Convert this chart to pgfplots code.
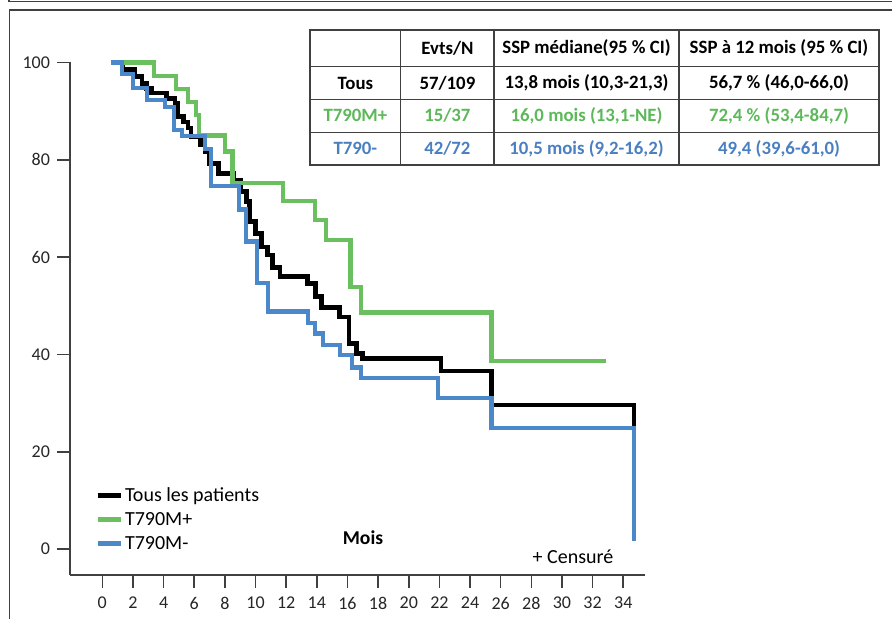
\documentclass[border=0pt]{standalone}
\usepackage{fontspec}
\setmainfont{Carlito}
\usepackage{pgfplots}
\pgfplotsset{compat=1.18}
\definecolor{kmgreen}{HTML}{6ABF5E}
\definecolor{kmblue}{HTML}{4A88C9}
\definecolor{txtgreen}{HTML}{5DB85A}
\definecolor{txtblue}{HTML}{4A7FC1}
\definecolor{framegray}{HTML}{404040}
\begin{document}
\begin{tikzpicture}
\useasboundingbox (0,0) rectangle (446pt,309.5pt);
\begin{axis}[
  at={(35pt,22pt)}, anchor=south west,
  scale only axis, width=287.5pt, height=256.25pt,
  xmin=-2.108, xmax=35.42, ymin=-5.34, ymax=100,
  axis lines=left,
  axis line style={-, framegray, line width=0.8pt},
  xtick={0,2,...,34}, ytick={0,20,...,100},
  tick align=outside, major tick length=6.5pt,
  tick style={framegray, line width=0.8pt},
  tick label style={font=\fontsize{9}{10}\selectfont, text=black!85},
  xticklabel style={yshift=-1pt},
  /pgf/number format/assume math mode=true,
  clip=false,
  legend style={at={(axis description cs:0.0435,0.1795)}, anchor=north west,
    draw=none, fill=none, inner sep=0pt, cells={anchor=west},
    font=\fontsize{10}{12}\selectfont, row sep=0pt,
    nodes={inner sep=1pt, text height=8pt, text depth=2pt}},
  legend image code/.code={\draw[#1] (0pt,0pt) -- (11.5pt,0pt);},
]
\addplot[const plot, black, line width=2.3pt] coordinates {
(0.7,100)(1.3,98.5)(2.1,97.1)(2.6,95.7)(2.9,94.7)(3.2,93.7)(4.2,92.6)(4.75,91.6)
(4.9,88.9)(5.3,87.8)(5.6,86.5)(5.8,84.8)(6.4,83.0)(6.7,81.7)(7.0,79.3)(7.6,77.2)
(8.6,75.8)(9.0,73.5)(9.4,71.4)(9.6,67.3)(10.0,64.9)(10.4,62.1)(10.8,60.4)(11.1,57.9)
(11.6,56.0)(13.4,54.6)(13.9,51.9)(14.3,49.7)(15.5,47.7)(16.1,42.3)(16.6,40.2)(17.0,39.1)
(22.1,36.6)(25.4,29.6)(34.7,25.1)};
\addlegendentry{Tous les patients}
\addplot[const plot, kmgreen, line width=2.1pt] coordinates {
(0.6,100)(3.4,97.3)(4.8,94.6)(5.6,91.9)(6.1,89.2)(6.3,85.0)(8.0,81.7)(8.5,75.3)
(11.8,71.6)(13.9,67.6)(14.6,63.5)(16.2,53.9)(16.9,48.6)(25.4,38.6)(32.9,38.6)};
\addlegendentry{T790M+}
\addplot[const plot, kmblue, line width=2.1pt] coordinates {
(0.6,100)(1.3,97.6)(2.0,94.7)(2.9,92.3)(4.1,90.9)(4.7,86.1)(5.2,84.9)(6.7,82.2)
(7.1,74.6)(8.9,69.8)(9.4,63.2)(10.1,54.6)(10.8,48.8)(13.4,46.4)(13.9,44.3)(14.4,41.9)
(15.5,39.9)(16.3,37.3)(16.9,35.1)(21.9,31.0)(25.4,24.8)(34.7,1.6)};
\addlegendentry{T790M-}
\end{axis}
\begin{scope}[x=0.5pt,y=-0.5pt,shift={(0pt,309.5pt)}]
  % frame
  \draw[framegray, line width=0.75pt] (9.5,640) -- (9.5,10) -- (900,10);
  \draw[framegray, line width=0.75pt] (9,-5) -- (9,1.5) -- (900,1.5);
  % texts
  \node[font=\fontsize{9.8}{11}\selectfont\bfseries] at (363,538) {Mois};
  \node[font=\fontsize{10}{12}\selectfont] at (573,557) {+ Censuré};
  % table
  \draw[framegray, line width=0.75pt] (310,30) rectangle (879,165);
  \foreach \yy in {66.7,99.3,132.3} \draw[framegray, line width=0.75pt] (310,\yy) -- (879,\yy);
  \foreach \xx in {400.7,494,679} \draw[framegray, line width=0.75pt] (\xx,30) -- (\xx,165);
  \begin{scope}[every node/.style={font=\fontsize{9.4}{11}\selectfont\bfseries}]
    \node at (447.4,48.3) {Evts/N};
    \node at (586.5,48.3) {SSP médiane(95 \% CI)};
    \node at (779,48.3) {SSP à 12 mois (95 \% CI)};
    \node at (355.4,83) {Tous};
    \node at (447.4,83) {57/109};
    \node at (586.5,83) {13,8 mois (10,3-21,3)};
    \node at (779,83) {56,7 \% (46,0-66,0)};
    \node[text=txtgreen] at (355.4,115.8) {T790M+};
    \node[text=txtgreen] at (447.4,115.8) {15/37};
    \node[text=txtgreen] at (586.5,115.8) {16,0 mois (13,1-NE)};
    \node[text=txtgreen] at (779,115.8) {72,4 \% (53,4-84,7)};
    \node[text=txtblue] at (355.4,148.7) {T790-};
    \node[text=txtblue] at (447.4,148.7) {42/72};
    \node[text=txtblue] at (586.5,148.7) {10,5 mois (9,2-16,2)};
    \node[text=txtblue] at (779,148.7) {49,4 (39,6-61,0)};
  \end{scope}
\end{scope}
\end{tikzpicture}
\end{document}
